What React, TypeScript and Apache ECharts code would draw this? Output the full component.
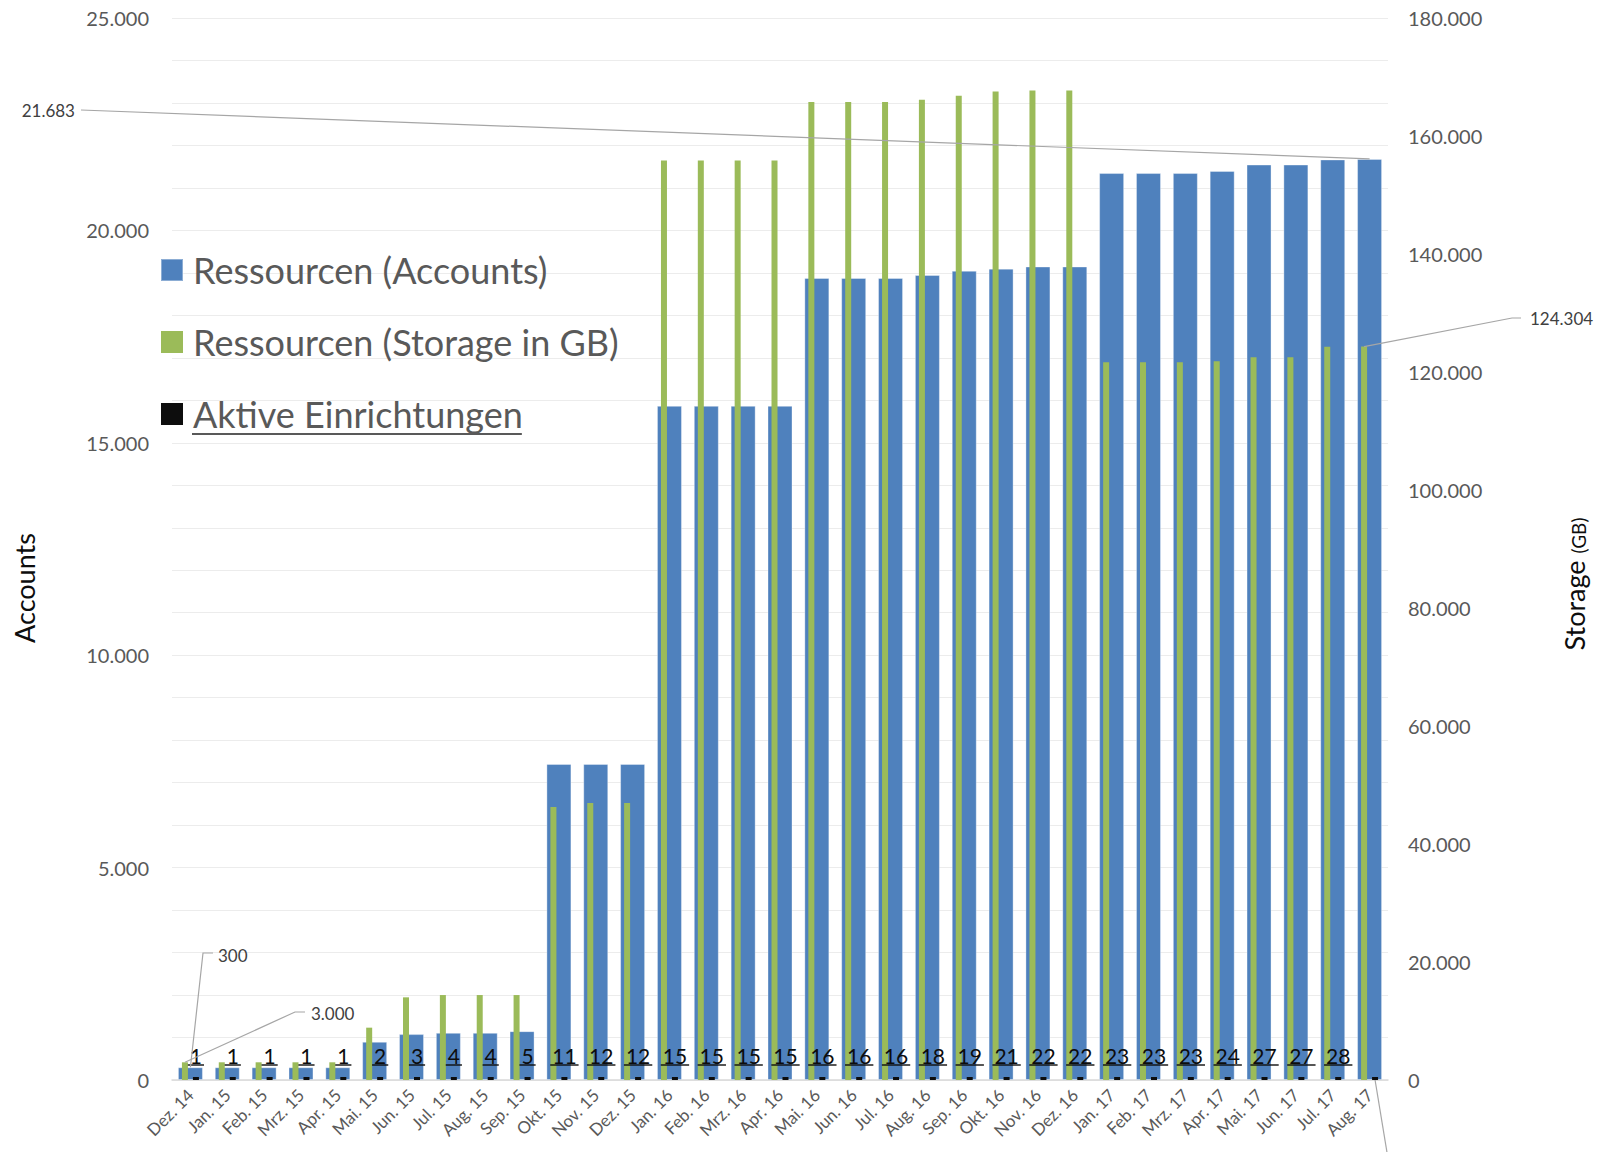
import React, { useEffect, useRef } from "react";
import * as echarts from "echarts";

const categories = [
  "Dez. 14", "Jan. 15", "Feb. 15", "Mrz. 15", "Apr. 15", "Mai. 15", "Jun. 15", "Jul. 15",
  "Aug. 15", "Sep. 15", "Okt. 15", "Nov. 15", "Dez. 15", "Jan. 16", "Feb. 16", "Mrz. 16",
  "Apr. 16", "Mai. 16", "Jun. 16", "Jul. 16", "Aug. 16", "Sep. 16", "Okt. 16", "Nov. 16",
  "Dez. 16", "Jan. 17", "Feb. 17", "Mrz. 17", "Apr. 17", "Mai. 17", "Jun. 17", "Jul. 17", "Aug. 17",
];

const accounts = [
  300, 300, 300, 300, 300, 900, 1080, 1110, 1110, 1150, 7440, 7440, 7440, 15870, 15870, 15870,
  15870, 18880, 18880, 18880, 18950, 19050, 19100, 19150, 19150, 21350, 21350, 21350, 21400,
  21550, 21550, 21670, 21683,
];

const storageGB = [
  3000, 3000, 3000, 3000, 3000, 8870, 14010, 14400, 14400, 14400, 46270, 46950, 46950, 155830,
  155830, 155830, 155830, 165760, 165760, 165760, 166130, 166820, 167530, 167700, 167700, 121640,
  121640, 121640, 121810, 122510, 122510, 124260, 124304,
];

const einrichtungen = [
  1, 1, 1, 1, 1, 2, 3, 4, 4, 5, 11, 12, 12, 15, 15, 15, 15, 16, 16, 16, 18, 19, 21, 22, 22, 23,
  23, 23, 24, 27, 27, 28, 28,
];

const leftTicks = [0, 5000, 10000, 15000, 20000, 25000];

const FONT = "Lato, 'Open Sans', sans-serif";
const BLUE = "#4F81BD";
const GREEN = "#9BBB59";
const BLACK = "#0d0d0d";
const GREY_TXT = "#595959";
const LEGEND_FS = 36;

const fmt = (v: number) => String(Math.round(v)).replace(/\B(?=(\d{3})+(?!\d))/g, ".");

let measureCtx: CanvasRenderingContext2D | null = null;
function measure(text: string, font: string): number {
  if (!measureCtx) measureCtx = document.createElement("canvas").getContext("2d");
  if (!measureCtx) return text.length * 10;
  measureCtx.font = font;
  return measureCtx.measureText(text).width;
}

export default function App() {
  const ref = useRef<HTMLDivElement>(null);

  useEffect(() => {
    document.body.style.margin = "0";
    if (!ref.current) return;
    const chart = echarts.init(ref.current, undefined, { renderer: "svg" });
    const last = categories.length - 1;

    const option: any = {
      animation: false,
      backgroundColor: "#ffffff",
      textStyle: { fontFamily: FONT },
      grid: { left: 172, right: 226, top: 18, bottom: 72, outerBoundsMode: "none" },
      legend: {
        data: ["Ressourcen (Accounts)", "Ressourcen (Storage in GB)", "Aktive Einrichtungen"],
        orient: "vertical",
        left: 160,
        top: 248,
        padding: 0,
        icon: "rect",
        itemWidth: 22,
        itemHeight: 22,
        itemGap: 28,
        textStyle: {
          fontFamily: FONT,
          fontSize: LEGEND_FS,
          color: GREY_TXT,
          lineHeight: 44,
          padding: [0, 0, 0, 5],
        },
      },
      xAxis: [
        {
          type: "category",
          data: categories,
          axisLine: { lineStyle: { color: "#d9d9d9", width: 1.5 } },
          axisTick: { show: false },
          axisLabel: {
            rotate: 45,
            interval: 0,
            margin: 12,
            fontFamily: FONT,
            fontSize: 17,
            color: GREY_TXT,
          },
        },
        { type: "category", data: categories, show: false },
      ],
      yAxis: [
        {
          type: "value",
          min: 0,
          max: 25000,
          interval: 1000,
          axisLine: { show: false },
          axisTick: { show: false },
          splitLine: { lineStyle: { color: "#ececec", width: 1 } },
          axisLabel: {
            margin: 23,
            fontFamily: FONT,
            fontSize: 20,
            color: GREY_TXT,
            formatter: (v: number) => (leftTicks.indexOf(v) >= 0 ? fmt(v) : ""),
          },
        },
        {
          type: "value",
          min: 0,
          max: 180000,
          interval: 20000,
          axisLine: { show: false },
          axisTick: { show: false },
          splitLine: { show: false },
          axisLabel: {
            margin: 20,
            fontFamily: FONT,
            fontSize: 20,
            color: GREY_TXT,
            formatter: (v: number) => fmt(v),
          },
        },
      ],
      series: [
        {
          name: "Ressourcen (Accounts)",
          type: "bar",
          xAxisIndex: 0,
          yAxisIndex: 0,
          barWidth: 25,
          data: accounts,
          itemStyle: { color: BLUE, borderColor: "rgba(255,255,255,0.35)", borderWidth: 1 },
        },
        {
          name: "Ressourcen (Storage in GB)",
          type: "bar",
          xAxisIndex: 1,
          yAxisIndex: 1,
          barWidth: 6,
          barGap: "83%",
          data: storageGB,
          itemStyle: { color: GREEN },
          z: 3,
        },
        {
          name: "Aktive Einrichtungen",
          type: "bar",
          xAxisIndex: 1,
          yAxisIndex: 0,
          barWidth: 6,
          barGap: "83%",
          barMinHeight: 3,
          data: einrichtungen,
          itemStyle: { color: BLACK },
          z: 3,
        },
        {
          name: "Aktive Einrichtungen Beschriftung",
          type: "custom",
          xAxisIndex: 1,
          yAxisIndex: 0,
          z: 4,
          data: einrichtungen.map((v, i) => [i, v]),
          encode: { x: 0, y: 1 },
          renderItem: (params: any, api: any) => {
            const idx = api.value(0);
            const v = api.value(1);
            if (idx === last) return null;
            const base = api.coord([idx, 0]);
            const band = api.size([1, 0])[0];
            const cx = base[0] + band * 0.149;
            const text = String(v);
            const w = measure(text, `21px Lato`);
            const ty = base[1] - 25;
            const uy = base[1] - 15;
            return {
              type: "group",
              children: [
                {
                  type: "text",
                  style: {
                    text,
                    x: cx,
                    y: ty,
                    align: "center",
                    verticalAlign: "middle",
                    fontSize: 21,
                    fontFamily: FONT,
                    fill: BLACK,
                  },
                },
                {
                  type: "line",
                  shape: { x1: cx - w / 2 - 2, y1: uy, x2: cx + w / 2 + 2, y2: uy },
                  style: { stroke: BLACK, lineWidth: 1.4 },
                },
              ],
            };
          },
        },
      ],
    };

    chart.setOption(option);

    const off = (6 + 6 * 0.83) / 2;
    const blueLast = chart.convertToPixel({ xAxisIndex: 0, yAxisIndex: 0 }, [last, accounts[last]]) as number[];
    const blueFirst = chart.convertToPixel({ xAxisIndex: 0, yAxisIndex: 0 }, [0, accounts[0]]) as number[];
    const greenFirst = chart.convertToPixel({ xAxisIndex: 1, yAxisIndex: 1 }, [0, storageGB[0]]) as number[];
    const greenLast = chart.convertToPixel({ xAxisIndex: 1, yAxisIndex: 1 }, [last, storageGB[last]]) as number[];
    const blackLast = chart.convertToPixel({ xAxisIndex: 1, yAxisIndex: 0 }, [last, 0]) as number[];

    const lineStyle = { stroke: "#a6a6a6", lineWidth: 1.2, fill: "none" };
    const annFont = { fontSize: 17, fontFamily: FONT, fill: "#404040" };
    const legendUnderlineW = measure("Aktive Einrichtungen", `${LEGEND_FS}px Lato`);

    chart.setOption({
      graphic: [
        {
          type: "polyline",
          shape: { points: [[81, 110], [blueLast[0], blueLast[1]]] },
          style: lineStyle,
          z: 10,
        },
        {
          type: "text",
          style: { text: fmt(accounts[last]), x: 75, y: 110, align: "right", verticalAlign: "middle", ...annFont },
          z: 10,
        },
        {
          type: "polyline",
          shape: { points: [[1521, 318], [1512, 318], [greenLast[0] - off, greenLast[1]]] },
          style: lineStyle,
          z: 10,
        },
        {
          type: "text",
          style: { text: fmt(storageGB[last]), x: 1530, y: 318, align: "left", verticalAlign: "middle", ...annFont },
          z: 10,
        },
        {
          type: "polyline",
          shape: { points: [[213, 953], [203, 953], [blueFirst[0], blueFirst[1]]] },
          style: lineStyle,
          z: 10,
        },
        {
          type: "text",
          style: { text: fmt(accounts[0]), x: 218, y: 955, align: "left", verticalAlign: "middle", ...annFont },
          z: 10,
        },
        {
          type: "polyline",
          shape: { points: [[305, 1012], [295, 1012], [greenFirst[0] - off, greenFirst[1]]] },
          style: lineStyle,
          z: 10,
        },
        {
          type: "text",
          style: { text: fmt(storageGB[0]), x: 311, y: 1013, align: "left", verticalAlign: "middle", ...annFont },
          z: 10,
        },
        {
          type: "line",
          shape: { x1: blackLast[0] + off, y1: blackLast[1], x2: blackLast[0] + off + 14, y2: 1165 },
          style: lineStyle,
          z: 10,
        },
        {
          type: "line",
          shape: { x1: 192, y1: 434, x2: 192 + legendUnderlineW, y2: 434 },
          style: { stroke: GREY_TXT, lineWidth: 2 },
          z: 10,
        },
        {
          type: "text",
          x: 24,
          y: 588,
          rotation: Math.PI / 2,
          style: {
            text: "Accounts",
            align: "center",
            verticalAlign: "middle",
            fontSize: 27,
            fontFamily: FONT,
            fill: BLACK,
          },
        },
        {
          type: "text",
          x: 1574,
          y: 584,
          rotation: Math.PI / 2,
          style: {
            text: "{a|Storage}{s| }{b|(GB)}",
            align: "center",
            verticalAlign: "middle",
            fontFamily: FONT,
            fill: BLACK,
            rich: {
              a: { fontSize: 27, fontFamily: FONT, fill: BLACK, verticalAlign: "bottom" },
              s: { fontSize: 19, fontFamily: FONT, width: 7 },
              b: { fontSize: 19, fontFamily: FONT, fill: BLACK, verticalAlign: "bottom" },
            },
          },
        },
      ],
    });

    return () => chart.dispose();
  }, []);

  return <div ref={ref} style={{ width: 1614, height: 1152 }} />;
}
